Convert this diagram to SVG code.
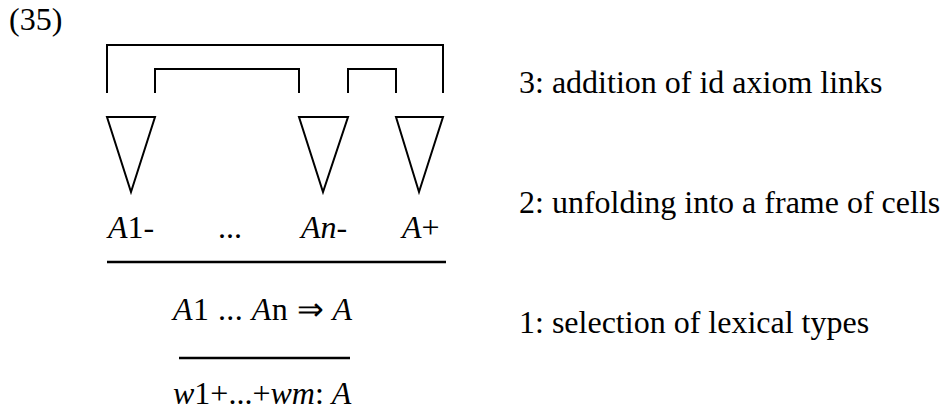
<svg xmlns="http://www.w3.org/2000/svg" width="941" height="408" viewBox="0 0 941 408">
<style>
text{font-family:"Liberation Serif","Times New Roman",serif;font-size:32px;fill:#000}
.i{font-style:italic}
.ln{fill:none;stroke:#000;stroke-width:2}
.rule{stroke:#000;stroke-width:2.6}
</style>
<rect width="941" height="408" fill="#fff"/>
<text x="9" y="30">(35)</text>
<g id="connectors">
<path class="ln" d="M107,93 V45 H443 V93"/>
<path class="ln" d="M155,93 V69 H299 V93"/>
<path class="ln" d="M348,93 V69 H396 V93"/>
</g>
<g id="cell1"><polygon class="ln" points="107,117 155,117 131,192"/></g>
<g id="celln"><polygon class="ln" points="299,117 348,117 323,192"/></g>
<g id="cellplus"><polygon class="ln" points="396,117 443,117 419,192"/></g>
<g id="labels">
<text x="108" y="238"><tspan class="i">A</tspan>1-</text>
<text x="218" y="238">...</text>
<text x="301" y="238" class="i">An-</text>
<text x="402" y="238"><tspan class="i">A</tspan>+</text>
</g>
<line class="rule" x1="107" y1="262" x2="446" y2="262"/>
<g id="sequent"><text x="173" y="320" textLength="179" lengthAdjust="spacing"><tspan class="i">A</tspan>1 ... <tspan class="i">A</tspan>n ⇒ <tspan class="i">A</tspan></text></g>
<line class="rule" x1="179" y1="358" x2="350" y2="358"/>
<g id="words"><text x="173" y="404"><tspan class="i">w</tspan>1+...+<tspan class="i">wm</tspan>: <tspan class="i">A</tspan></text></g>
<g id="steps">
<text x="519" y="93">3: addition of id axiom links</text>
<text x="519" y="213">2: unfolding into a frame of cells</text>
<text x="519" y="333">1: selection of lexical types</text>
</g>
</svg>
